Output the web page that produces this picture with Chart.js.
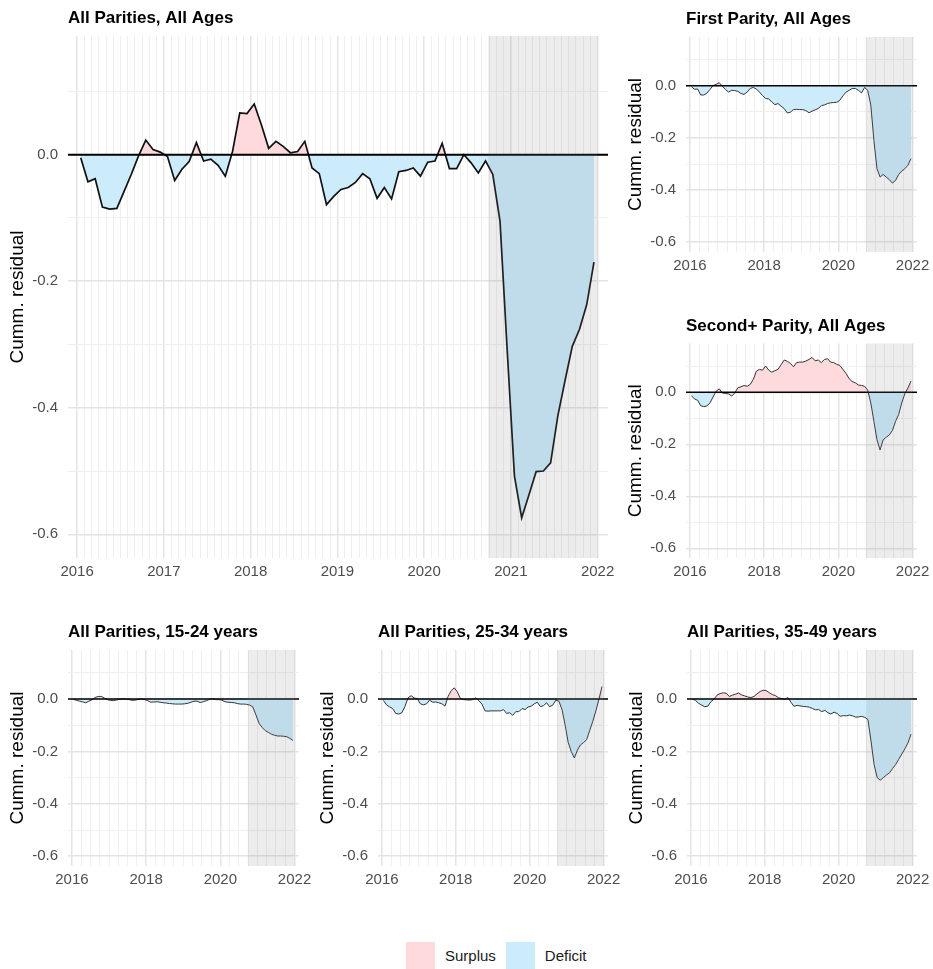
<!DOCTYPE html>
<html>
<head>
<meta charset="utf-8">
<title>Cumulative residuals by parity and age</title>
<script src="https://cdn.jsdelivr.net/npm/chart.js@4.4.1/dist/chart.umd.min.js"></script>
<style>
  html, body { margin: 0; padding: 0; background: #fff; }
  #fig { position: relative; width: 933px; height: 969px; overflow: hidden; background: #fff;
         font-family: "Liberation Sans", Arial, sans-serif; }
  #fig canvas { position: absolute; }
  .legend { position: absolute; top: 942px; left: 406px; height: 27px; display: flex; align-items: center;
            font-size: 15px; color: #1a1a1a; }
  .legend .key { width: 29px; height: 27px; display: inline-block; }
  .legend .lbl { margin: 0 10px 0 10px; }
</style>
</head>
<body>
<div id="fig">
  <div class="legend">
    <span class="key" style="background: rgb(255,218,220)"></span><span class="lbl">Surplus</span>
    <span class="key" style="background: rgb(204,236,252)"></span><span class="lbl">Deficit</span>
  </div>
</div>
<script>
// Monthly observations, January 2016 to December 2021
const months = [];
for (let yr = 2016; yr <= 2021; yr++) {
  for (let mo = 1; mo <= 12; mo++) months.push(yr + '-' + String(mo).padStart(2, '0'));
}

// Cumulative residuals per panel (one value per month)
const allAges = [
  -0.005, -0.043, -0.038, -0.083, -0.086, -0.085, -0.058, -0.031, -0.002, 0.023, 0.008, 0.004,
  -0.003, -0.041, -0.023, -0.011, 0.019, -0.010, -0.007, -0.017, -0.034, 0.005, 0.066, 0.065,
  0.080, 0.047, 0.010, 0.021, 0.013, 0.003, 0.005, 0.021, -0.021, -0.030, -0.079, -0.066,
  -0.055, -0.052, -0.044, -0.030, -0.038, -0.069, -0.052, -0.070, -0.027, -0.025, -0.021, -0.034,
  -0.012, -0.010, 0.018, -0.022, -0.022, 0.000, -0.013, -0.029, -0.010, -0.031, -0.105, -0.310,
  -0.508, -0.574, -0.538, -0.501, -0.500, -0.487, -0.413, -0.357, -0.303, -0.276, -0.237, -0.170
];
const firstParity = [
  -0.004, -0.013, -0.012, -0.035, -0.035, -0.028, -0.014, 0.001, 0.006, 0.012, -0.001, -0.014,
  -0.024, -0.017, -0.018, -0.021, -0.029, -0.033, -0.024, -0.010, -0.006, -0.012, -0.024, -0.037,
  -0.049, -0.050, -0.062, -0.072, -0.068, -0.078, -0.087, -0.104, -0.101, -0.091, -0.090, -0.091,
  -0.091, -0.095, -0.103, -0.097, -0.092, -0.087, -0.076, -0.073, -0.068, -0.065, -0.064, -0.063,
  -0.055, -0.038, -0.024, -0.017, -0.010, -0.010, -0.017, -0.027, -0.006, -0.017, -0.074, -0.209,
  -0.318, -0.350, -0.340, -0.350, -0.360, -0.373, -0.363, -0.340, -0.327, -0.318, -0.305, -0.279
];
const secondParity = [
  -0.013, -0.026, -0.031, -0.052, -0.055, -0.053, -0.041, -0.018, 0.004, 0.013, -0.003, -0.005,
  -0.006, -0.015, -0.003, 0.017, 0.021, 0.026, 0.023, 0.030, 0.049, 0.081, 0.088, 0.085,
  0.101, 0.085, 0.077, 0.083, 0.088, 0.106, 0.124, 0.119, 0.111, 0.098, 0.114, 0.116,
  0.116, 0.120, 0.126, 0.134, 0.121, 0.124, 0.114, 0.126, 0.129, 0.116, 0.114, 0.107,
  0.103, 0.088, 0.072, 0.052, 0.041, 0.036, 0.028, 0.026, 0.023, 0.008, -0.041, -0.112,
  -0.183, -0.222, -0.183, -0.173, -0.164, -0.147, -0.112, -0.086, -0.041, -0.006, 0.017, 0.043
];
const age15to24 = [
  -0.001, -0.005, -0.008, -0.011, -0.014, -0.008, -0.003, 0.006, 0.010, 0.010, 0.004, -0.002,
  -0.005, -0.006, -0.003, -0.001, 0.001, 0.000, -0.002, -0.005, -0.004, -0.001, 0.000, -0.002,
  -0.006, -0.012, -0.011, -0.010, -0.012, -0.014, -0.015, -0.017, -0.018, -0.019, -0.019, -0.019,
  -0.018, -0.016, -0.012, -0.008, -0.008, -0.013, -0.010, -0.006, -0.001, 0.002, -0.002, -0.002,
  -0.004, -0.010, -0.012, -0.013, -0.014, -0.017, -0.019, -0.019, -0.020, -0.023, -0.030, -0.060,
  -0.092, -0.108, -0.120, -0.127, -0.134, -0.138, -0.141, -0.141, -0.142, -0.144, -0.150, -0.158
];
const age25to34 = [
  -0.005, -0.022, -0.030, -0.036, -0.055, -0.057, -0.052, -0.028, 0.005, 0.013, 0.004, 0.002,
  -0.018, -0.022, -0.018, -0.004, -0.012, -0.011, -0.014, -0.018, -0.027, 0.010, 0.032, 0.043,
  0.028, 0.002, -0.002, -0.003, -0.004, -0.002, 0.005, -0.006, -0.019, -0.045, -0.046, -0.045,
  -0.045, -0.045, -0.045, -0.040, -0.055, -0.052, -0.062, -0.048, -0.048, -0.036, -0.040, -0.030,
  -0.027, -0.018, -0.012, -0.029, -0.025, -0.014, -0.029, -0.023, -0.004, -0.008, -0.040, -0.098,
  -0.165, -0.200, -0.225, -0.195, -0.175, -0.166, -0.155, -0.120, -0.085, -0.045, 0.000, 0.048
];
const age35to49 = [
  0.000, -0.005, -0.016, -0.023, -0.029, -0.027, -0.010, 0.000, 0.015, 0.021, 0.024, 0.022,
  0.010, 0.015, 0.019, 0.023, 0.016, 0.012, 0.008, 0.006, 0.010, 0.020, 0.029, 0.034,
  0.032, 0.024, 0.017, 0.013, 0.005, 0.002, -0.001, 0.006, -0.012, -0.028, -0.024, -0.026,
  -0.028, -0.029, -0.031, -0.036, -0.041, -0.040, -0.048, -0.043, -0.052, -0.057, -0.050, -0.055,
  -0.066, -0.063, -0.064, -0.061, -0.064, -0.069, -0.068, -0.066, -0.070, -0.078, -0.160, -0.250,
  -0.300, -0.310, -0.300, -0.290, -0.282, -0.265, -0.250, -0.230, -0.210, -0.190, -0.168, -0.134
];

// Axis labels
const mainYearLabels = ['2016', '2017', '2018', '2019', '2020', '2021', '2022'];
const smallYearLabels = ['2016', '2018', '2020', '2022'];
const yTickLabels = ['-0.6', '-0.4', '-0.2', '0.0'];
const yGridValues = [-0.6, -0.5, -0.4, -0.3, -0.2, -0.1, 0, 0.1];

// Highlighted period (pandemic-era conceptions)
const shadeFrom = 2020.74;
const shadeTo = 2022.0;

const SURPLUS = 'rgb(255,218,220)';
const DEFICIT = 'rgb(204,236,252)';
const SHADE = 'rgba(128,128,128,0.15)';
const X_MIN = 2015.895, X_MAX = 2022.12;
const Y_MIN = -0.6375, Y_MAX = 0.1875;
const FONT = '"Liberation Sans", Arial, Helvetica, sans-serif';

Chart.defaults.font.family = FONT;

function midMonth(label) {
  const [yr, mo] = label.split('-').map(Number);
  return yr + (mo - 0.5) / 12;
}
function monthStart(label) {
  const [yr, mo] = label.split('-').map(Number);
  return yr + (mo - 1) / 12;
}
const isYear = v => Math.abs(v - Math.round(v)) < 1e-6;

// Vertical grid positions: monthly for the large panel, quarterly for the small ones
const monthlyGrid = months.map(monthStart).concat([2022]);
const quarterlyGrid = months.filter((m, i) => i % 3 === 0).map(monthStart).concat([2022]);

// Zero line, shaded period and panel title
const panelDecor = {
  id: 'panelDecor',
  afterDatasetsDraw(chart, args, opts) {
    const { ctx, chartArea: a, scales: { x, y } } = chart;
    ctx.save();
    const y0 = y.getPixelForValue(0);
    ctx.strokeStyle = '#000';
    ctx.lineWidth = opts.zeroWidth;
    ctx.beginPath();
    ctx.moveTo(a.left, y0);
    ctx.lineTo(a.right, y0);
    ctx.stroke();
    const xs = x.getPixelForValue(shadeFrom);
    const xe = x.getPixelForValue(shadeTo);
    ctx.fillStyle = SHADE;
    ctx.fillRect(xs, a.top, xe - xs, a.bottom - a.top);
    ctx.restore();
  },
  afterDraw(chart, args, opts) {
    const { ctx, chartArea: a } = chart;
    ctx.save();
    ctx.font = 'bold 17px ' + FONT;
    ctx.fillStyle = '#000';
    ctx.textAlign = 'left';
    ctx.textBaseline = 'alphabetic';
    ctx.fillText(opts.title, a.left, a.top - 13);
    ctx.restore();
  }
};

const panels = [
  { title: 'All Parities, All Ages', values: allAges, big: true,
    box: { x: 0, y: 0, w: 630, h: 600 }, plot: { left: 68, top: 36, right: 608, bottom: 558 } },
  { title: 'First Parity, All Ages', values: firstParity,
    box: { x: 620, y: 0, w: 340, h: 290 }, plot: { left: 66, top: 37, right: 297, bottom: 252 } },
  { title: 'Second+ Parity, All Ages', values: secondParity,
    box: { x: 620, y: 300, w: 340, h: 290 }, plot: { left: 66, top: 43.5, right: 297, bottom: 258 } },
  { title: 'All Parities, 15-24 years', values: age15to24,
    box: { x: 0, y: 600, w: 330, h: 290 }, plot: { left: 68, top: 50, right: 299, bottom: 266 } },
  { title: 'All Parities, 25-34 years', values: age25to34,
    box: { x: 310, y: 600, w: 330, h: 290 }, plot: { left: 68, top: 50, right: 298, bottom: 266 } },
  { title: 'All Parities, 35-49 years', values: age35to49,
    box: { x: 620, y: 600, w: 340, h: 290 }, plot: { left: 67, top: 50, right: 297, bottom: 266 } }
];

const fig = document.getElementById('fig');

panels.forEach(p => {
  const canvas = document.createElement('canvas');
  canvas.width = p.box.w;
  canvas.height = p.box.h;
  canvas.style.left = p.box.x + 'px';
  canvas.style.top = p.box.y + 'px';
  canvas.style.width = p.box.w + 'px';
  canvas.style.height = p.box.h + 'px';
  fig.appendChild(canvas);

  const xGrid = p.big ? monthlyGrid : quarterlyGrid;
  const yearLabels = p.big ? mainYearLabels : smallYearLabels;
  const isXMajor = v => isYear(v) && yearLabels.includes(String(Math.round(v)));
  const isYMajor = v => yTickLabels.includes(v.toFixed(1));

  new Chart(canvas, {
    type: 'line',
    data: {
      datasets: [{
        data: months.map((m, i) => ({ x: midMonth(m), y: p.values[i] })),
        borderColor: p.big ? '#111' : '#333',
        borderWidth: p.big ? 1.7 : 1,
        pointRadius: 0,
        tension: 0,
        fill: { target: { value: 0 }, above: SURPLUS, below: DEFICIT }
      }]
    },
    options: {
      responsive: false,
      animation: false,
      devicePixelRatio: 1,
      events: [],
      layout: { padding: { left: 0, top: p.plot.top, right: p.box.w - p.plot.right, bottom: 0 } },
      plugins: {
        legend: { display: false },
        tooltip: { enabled: false },
        panelDecor: { title: p.title, zeroWidth: p.big ? 2 : 1.5 }
      },
      scales: {
        x: {
          type: 'linear',
          min: X_MIN,
          max: X_MAX,
          afterFit(s) { s.height = p.box.h - p.plot.bottom; },
          afterBuildTicks(s) { s.ticks = xGrid.map(v => ({ value: v })); },
          ticks: {
            autoSkip: false, maxRotation: 0, padding: 5,
            font: { size: 15 }, color: '#4d4d4d',
            callback: v => isXMajor(v) ? String(Math.round(v)) : ''
          },
          grid: {
            drawTicks: false,
            color: c => isXMajor(c.tick.value) ? '#e4e4e4' : '#efefef',
            lineWidth: c => isXMajor(c.tick.value) ? 1.5 : 1
          },
          border: { display: false }
        },
        y: {
          min: Y_MIN,
          max: Y_MAX,
          afterFit(s) { s.width = p.plot.left; },
          afterBuildTicks(s) { s.ticks = yGridValues.map(v => ({ value: v })); },
          ticks: {
            padding: 10, font: { size: 15 }, color: '#4d4d4d',
            callback: v => isYMajor(v) ? v.toFixed(1) : ''
          },
          title: {
            display: true, text: 'Cumm. residual', color: '#000',
            font: { size: 19 },
            padding: { top: p.plot.left - 50 - 11.4, bottom: 0 }
          },
          grid: {
            drawTicks: false,
            color: c => isYMajor(c.tick.value) ? '#e4e4e4' : '#efefef',
            lineWidth: c => isYMajor(c.tick.value) ? 1.5 : 1
          },
          border: { display: false }
        }
      }
    },
    plugins: [panelDecor]
  });
});
</script>
</body>
</html>
